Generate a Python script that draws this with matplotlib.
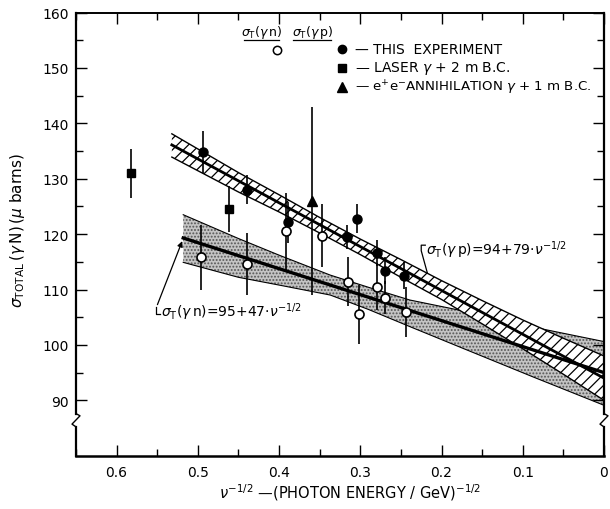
import numpy as np
import matplotlib.pyplot as plt
from matplotlib.ticker import MultipleLocator, FixedLocator, FuncFormatter

plt.rcParams['font.family'] = 'DejaVu Sans'
plt.rcParams['hatch.linewidth'] = 0.9


# this experiment, sigma_T(gamma p): filled circles
p_x = [0.494, 0.440, 0.389, 0.316, 0.3035, 0.280, 0.270, 0.246]
p_y = [134.9, 128.0, 122.1, 119.5, 122.8, 116.6, 113.4, 112.5]
p_err = [3.8, 2.6, 3.7, 2.2, 2.6, 2.3, 2.4, 2.4]

# this experiment, sigma_T(gamma n): open circles
n_x = [0.496, 0.439, 0.392, 0.347, 0.315, 0.302, 0.280, 0.270, 0.244]
n_y = [115.8, 114.6, 120.5, 119.7, 111.4, 105.5, 110.5, 108.5, 105.9]
n_err = [5.8, 5.6, 7.0, 5.7, 4.4, 5.3, 4.2, 3.0, 4.5]

# laser gamma + 2 m B.C.
las_x = [0.582, 0.462]
las_y = [131.0, 124.5]
las_err = [4.4, 4.2]

# e+e- annihilation gamma + 1 m B.C.
ann_x = [0.359]
ann_y = [126.0]
ann_err = [17.0]

# fit lines (end points)
fitp_x = [0.532, 0.0]
fitp_y = [136.1, 94.0]
fitn_x = [0.518, 0.0]
fitn_y = [119.3, 95.0]

# error band of the gamma p fit (hatched)
bandp_x = [0.532, 0.45, 0.4, 0.35, 0.3, 0.25, 0.2, 0.15, 0.1, 0.05, 0.0]
bandp_hi = [138.1, 131.1, 127.1, 123.0, 119.1, 115.4, 111.6, 108.0, 104.5, 101.2, 98.0]
bandp_lo = [133.9, 127.6, 124.0, 120.2, 116.3, 112.2, 108.2, 103.8, 99.3, 94.7, 90.0]

# error band of the gamma n fit (stippled)
bandn_x = [0.518, 0.45, 0.4, 0.337, 0.29, 0.239, 0.189, 0.169, 0.087, 0.0]
bandn_hi = [123.5, 119.2, 116.2, 112.6, 110.4, 108.1, 106.6, 106.0, 103.2, 100.6]
bandn_lo = [114.9, 112.2, 110.8, 109.0, 106.4, 103.3, 100.3, 99.1, 94.2, 89.1]


fig = plt.figure(figsize=(6.1, 5.1), dpi=100)
ax = fig.add_axes([76/610, 1 - 456.7/510, 528/610, 443.2/510])
ax.set_xlim(0.65, 0)
ax.set_ylim(80, 160)

# bands
ax.fill_between(bandn_x, bandn_lo, bandn_hi, facecolor='#c4c4c4', edgecolor='#555555',
                hatch='.....', linewidth=0, zorder=1)
ax.plot(bandn_x, bandn_hi, color='black', lw=0.8, zorder=2)
ax.plot(bandn_x, bandn_lo, color='black', lw=0.8, zorder=2)

ax.fill_between(bandp_x, bandp_lo, bandp_hi, facecolor='white', edgecolor='black',
                hatch='///', linewidth=0, zorder=3)
ax.plot(bandp_x, bandp_hi, color='black', lw=1.0, zorder=4)
ax.plot(bandp_x, bandp_lo, color='black', lw=1.0, zorder=4)

# fits
ax.plot(fitp_x, fitp_y, color='black', lw=2.0, zorder=5)
ax.plot(fitn_x, fitn_y, color='black', lw=2.4, zorder=5)

# data points
eb = dict(fmt='none', ecolor='black', elinewidth=1.2, capsize=0, zorder=6)
ax.errorbar(p_x, p_y, yerr=p_err, **eb)
ax.errorbar(n_x, n_y, yerr=n_err, **eb)
ax.errorbar(las_x, las_y, yerr=las_err, **eb)
ax.errorbar(ann_x, ann_y, yerr=ann_err, **eb)
ax.plot(p_x, p_y, 'o', color='black', ms=6.5, zorder=7)
ax.plot(n_x, n_y, 'o', mfc='white', mec='black', mew=1.2, ms=6.5, zorder=7)
ax.plot(las_x, las_y, 's', color='black', ms=6, zorder=7)
ax.plot(ann_x, ann_y, '^', color='black', ms=7, zorder=7)

# legend drawn by hand
ax.text(0.4207, 156.6, r'$\sigma_{\rm T}(\gamma\,{\rm n})$', fontsize=9, ha='center', va='center')
ax.text(0.3590, 156.6, r'$\sigma_{\rm T}(\gamma\,{\rm p})$', fontsize=9, ha='center', va='center')
ax.plot([0.4428, 0.4000], [155.0, 155.0], color='black', lw=0.9)
ax.plot([0.3825, 0.3358], [155.0, 155.0], color='black', lw=0.9)
ax.plot([0.402], [153.2], 'o', mfc='white', mec='black', mew=1.1, ms=6)
ax.plot([0.3226], [153.4], 'o', color='black', ms=6)
ax.plot([0.3226], [150.0], 's', color='black', ms=5.5)
ax.plot([0.3226], [146.6], '^', color='black', ms=6.5)
ax.text(0.307, 153.4, '— THIS  EXPERIMENT', fontsize=10, va='center')
ax.text(0.307, 150.0, r'— LASER $\gamma$ + 2 m B.C.', fontsize=10, va='center')
ax.text(0.307, 146.6, r'— e$^{+}$e$^{-}$ANNIHILATION $\gamma$ + 1 m B.C.', fontsize=9.6, va='center')

# fit labels with leader lines
ax.text(0.219, 117.3, r'$\sigma_{\rm T}(\gamma\,{\rm p})$=94+79$\cdot\nu^{-1/2}$', fontsize=10, va='center')
ax.plot([0.220, 0.225, 0.225, 0.216], [118.0, 118.0, 117.0, 112.2], color='black', lw=0.9)
ax.text(0.545, 106.0, r'$\sigma_{\rm T}(\gamma\,{\rm n})$=95+47$\cdot\nu^{-1/2}$', fontsize=10, va='center')
ax.annotate('', xy=(0.518, 119.2), xytext=(0.551, 106.8),
            arrowprops=dict(arrowstyle='-|>', color='black', lw=0.9, mutation_scale=8))
ax.plot([0.551, 0.551, 0.547], [106.8, 105.6, 105.6], color='black', lw=0.9)

# axes frame with the broken y axis
for side in ['left', 'right']:
    ax.spines[side].set_visible(False)
ax.spines['top'].set_linewidth(1.4)
ax.spines['bottom'].set_linewidth(1.8)
tr = ax.get_yaxis_transform()
dx = 4 / 528
for x0, lw in [(0, 1.6), (1, 1.6)]:
    ax.plot([x0, x0], [87.6, 160], color='black', lw=lw, transform=tr, clip_on=False, zorder=10)
    ax.plot([x0, x0], [80, 85.2], color='black', lw=lw, transform=tr, clip_on=False, zorder=10)
    ax.plot([x0, x0 + dx, x0 - dx, x0], [87.6, 87.2, 85.7, 85.2], color='black', lw=1.0,
            transform=tr, clip_on=False, zorder=10)

# ticks
ax.xaxis.set_major_locator(MultipleLocator(0.1))
ax.xaxis.set_minor_locator(MultipleLocator(0.05))
ax.xaxis.set_major_formatter(FuncFormatter(lambda v, p: '0' if abs(v) < 1e-9 else f'{v:.1f}'))
ax.yaxis.set_major_locator(FixedLocator([90, 100, 110, 120, 130, 140, 150, 160]))
ax.yaxis.set_minor_locator(FixedLocator([95, 105, 115, 125, 135, 145, 155]))
ax.tick_params(which='both', direction='in', top=True, right=True, width=1.0, labelsize=10)
ax.tick_params(which='major', length=8)
ax.tick_params(which='minor', length=5)
ax.tick_params(axis='x', pad=7)
ax.tick_params(axis='y', pad=5)

ax.set_xlabel(r'$\nu^{-1/2}$ —(PHOTON ENERGY / GeV)$^{-1/2}$', fontsize=10.5)
ax.xaxis.set_label_coords(0.519, -0.058)
ax.set_ylabel(r'$\sigma_{\rm TOTAL}\,(\gamma\,{\rm N})\,(\mu\ {\rm barns})$', fontsize=11)
ax.yaxis.set_label_coords(-0.092, 0.51)

plt.savefig('out.png', dpi=100)
